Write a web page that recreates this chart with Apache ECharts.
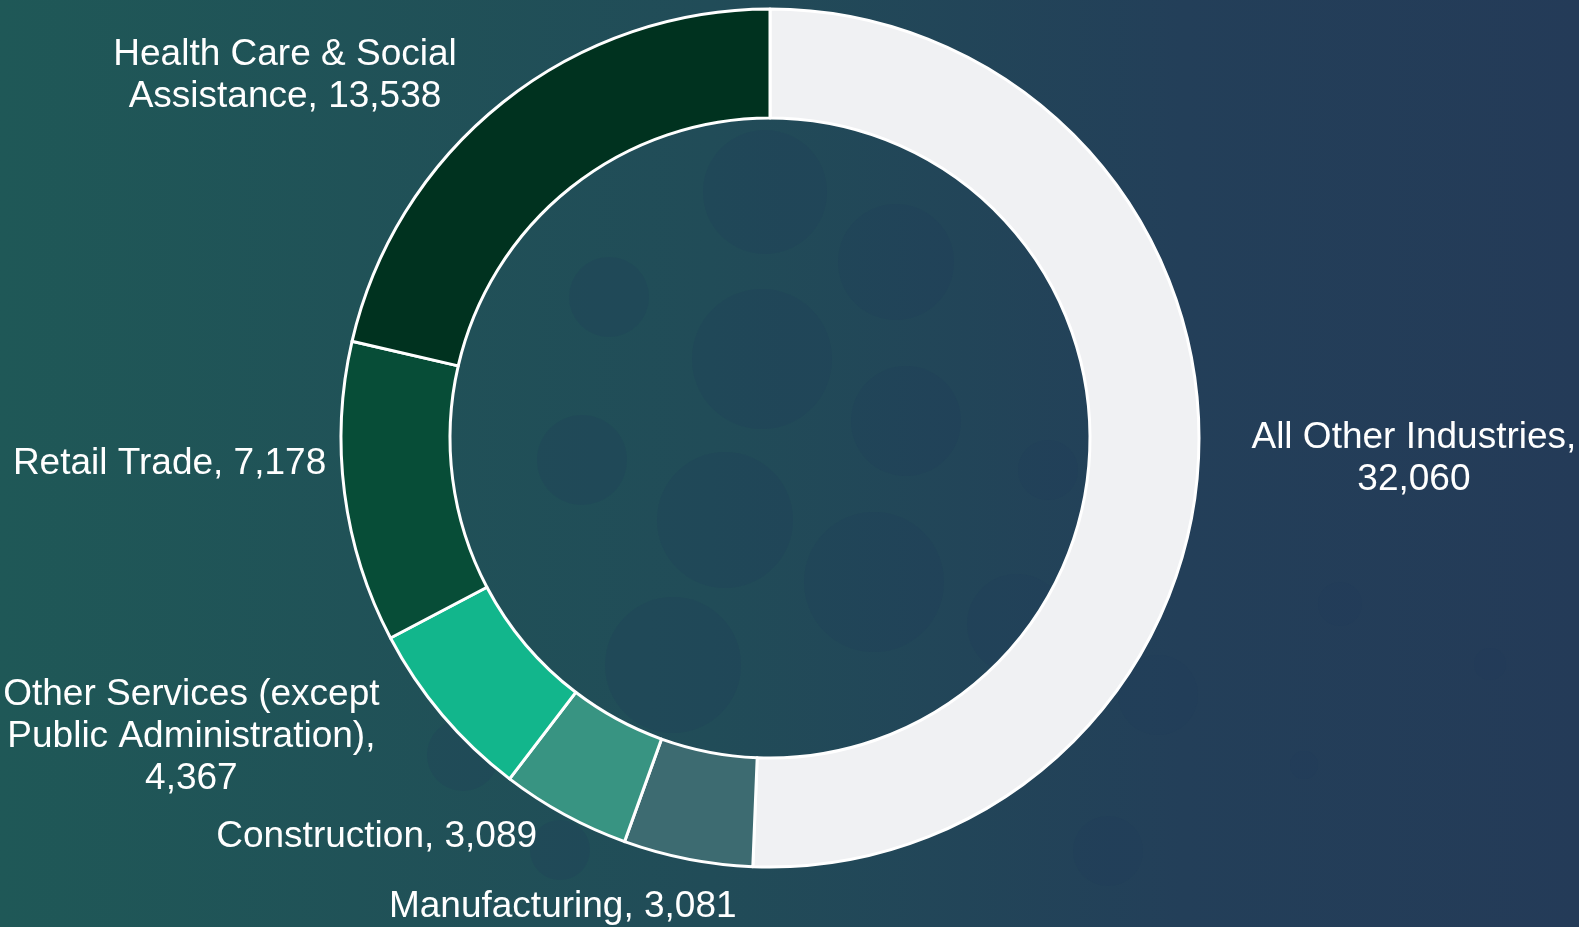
<!DOCTYPE html>
<html>
<head>
<meta charset="utf-8">
<title>Employment by Industry</title>
<script src="https://cdn.jsdelivr.net/npm/echarts@6/dist/echarts.min.js"></script>
<style>
  html, body {
    margin: 0;
    padding: 0;
    width: 100%;
    height: 100%;
    overflow: hidden;
    background: linear-gradient(90deg, #1f5857 0%, #214c58 45%, #233f59 75%, #243b58 100%);
  }
  #chart {
    width: 1579px;
    height: 927px;
  }
</style>
</head>
<body>
<div id="chart"></div>
<script>
  // data, clockwise from 12 o'clock
  const industries = [
    'All Other Industries',
    'Manufacturing',
    'Construction',
    'Other Services (except Public Administration)',
    'Retail Trade',
    'Health Care & Social Assistance'
  ]
  const employees = [32060, 3081, 3089, 4367, 7178, 13538]

  const sliceColors = ['#f0f1f3', '#3d6b71', '#389482', '#12b68c', '#074d37', '#00321f']
  // where each label sits, relative to the middle of its slice's outer edge
  const labelShift = [[215, 12], [-125, 48], [-188, 22], [-251, 22], [-175, -29], [-218, -26]]

  const CX = 770
  const CY = 438
  const R_IN = 320
  const R_OUT = 429
  const FONT = '37px "Liberation Sans", Arial, sans-serif'
  const WRAP = 400

  const total = employees.reduce((a, b) => a + b, 0)
  const midAngles = []
  let acc = 0
  employees.forEach(v => {
    midAngles.push((acc + v / 2) / total * Math.PI * 2)
    acc += v
  })

  // greedy word wrap on spaces only, so "32,060" stays in one piece
  const ctx = document.createElement('canvas').getContext('2d')
  ctx.font = FONT
  function wrap(text) {
    const words = text.split(' ')
    const lines = []
    let line = ''
    words.forEach(w => {
      const test = line ? line + ' ' + w : w
      if (line && ctx.measureText(test).width > WRAP) {
        lines.push(line)
        line = w
      } else {
        line = test
      }
    })
    lines.push(line)
    return lines.join('\n')
  }

  // faint bubbles in the backdrop
  const bubbles = [
    [609, 297, 40], [762, 359, 70], [906, 421, 55], [582, 460, 45], [725, 520, 68],
    [874, 582, 70], [673, 665, 68], [765, 192, 62], [896, 262, 58], [1017, 624, 50],
    [1158, 695, 40], [1108, 851, 35], [463, 755, 36], [1340, 604, 22], [1490, 664, 16],
    [1304, 765, 14], [1048, 470, 30], [560, 850, 30]
  ]

  const chart = echarts.init(document.getElementById('chart'))

  const option = {
    animation: false,
    graphic: bubbles.map(b => ({
      type: 'circle',
      silent: true,
      z: -10,
      shape: { cx: b[0], cy: b[1], r: b[2] },
      style: { fill: 'rgba(32, 58, 90, 0.22)' }
    })),
    series: [{
      type: 'pie',
      center: [CX, CY],
      radius: [R_IN, R_OUT],
      startAngle: 90,
      clockwise: true,
      avoidLabelOverlap: false,
      itemStyle: {
        borderColor: '#ffffff',
        borderWidth: 3
      },
      label: {
        show: true,
        position: 'outside',
        color: '#ffffff',
        fontFamily: '"Liberation Sans", Arial, sans-serif',
        fontSize: 37,
        lineHeight: 42,
        formatter: p => wrap(p.name + ', ' + p.value.toLocaleString('en-US'))
      },
      labelLine: { show: false },
      labelLayout: params => {
        const i = params.dataIndex
        const a = midAngles[i]
        return {
          x: CX + R_OUT * Math.sin(a) + labelShift[i][0],
          y: CY - R_OUT * Math.cos(a) + labelShift[i][1],
          align: 'center',
          verticalAlign: 'middle'
        }
      },
      emphasis: { disabled: true },
      data: industries.map((name, i) => ({
        name: name,
        value: employees[i],
        itemStyle: { color: sliceColors[i] }
      }))
    }]
  }

  chart.setOption(option)
</script>
</body>
</html>
